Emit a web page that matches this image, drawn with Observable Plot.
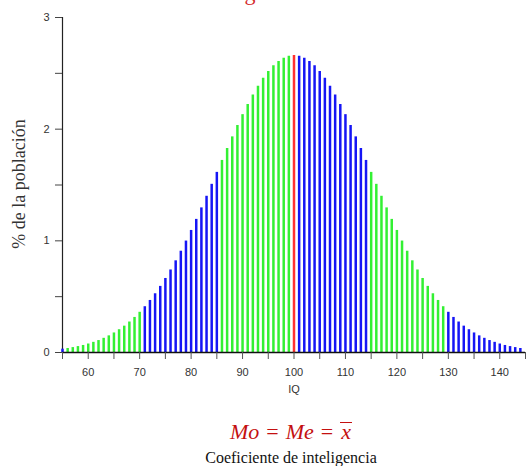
<!DOCTYPE html>
<html>
<head>
<meta charset="utf-8">
<script src="https://cdn.jsdelivr.net/npm/d3@7"></script>
<script src="https://cdn.jsdelivr.net/npm/@observablehq/plot@0.6"></script>
<style>
  html, body { margin: 0; padding: 0; background: #fff; }
  #wrap { position: relative; width: 526px; height: 466px; overflow: hidden; }
  #chart { position: absolute; left: 0; top: 0; }
  .title { position: absolute; top: -18px; left: 198px; font: 22px "Liberation Serif", serif; color: #d42a2a; line-height: 1; white-space: nowrap; }
  .formula { position: absolute; top: 421px; left: 0; width: 582px; text-align: center; font: italic 22px "Liberation Serif", serif; color: #c41010; line-height: 1; white-space: nowrap; }
  .formula .eq { font-style: normal; margin: 0 7px; }
  .formula .bar { display: inline-block; border-top: 1.5px solid #c41010; line-height: 0.85; padding: 0 1px; }
  .caption { position: absolute; top: 450px; left: 0; width: 582px; text-align: center; font: 16px "Liberation Serif", serif; color: #111; line-height: 1; white-space: nowrap; }
</style>
</head>
<body>
<div id="wrap">
  <div class="title">Inteligencia</div>
  <div id="chart"></div>
  <div class="formula">Mo<span class="eq">=</span>Me<span class="eq">=</span><span class="bar">x</span></div>
  <div class="caption">Coeficiente de inteligencia</div>
</div>
<script>
// IQ score of each bar
const iq = [
  55, 56, 57, 58, 59, 60, 61, 62, 63, 64, 65, 66, 67, 68, 69, 70,
  71, 72, 73, 74, 75, 76, 77, 78, 79, 80, 81, 82, 83, 84, 85,
  86, 87, 88, 89, 90, 91, 92, 93, 94, 95, 96, 97, 98, 99,
  100,
  101, 102, 103, 104, 105, 106, 107, 108, 109, 110, 111, 112, 113, 114,
  115, 116, 117, 118, 119, 120, 121, 122, 123, 124, 125, 126, 127, 128, 129,
  130, 131, 132, 133, 134, 135, 136, 137, 138, 139, 140, 141, 142, 143, 144
];

// share of the population (%) at each IQ score
const pct = [
  0.030, 0.036, 0.044, 0.053, 0.063, 0.076, 0.091, 0.107, 0.127, 0.149, 0.175, 0.204, 0.236, 0.273, 0.314, 0.360,
  0.410, 0.466, 0.526, 0.592, 0.663, 0.739, 0.821, 0.907, 0.998, 1.093, 1.192, 1.295, 1.399, 1.506, 1.613,
  1.720, 1.827, 1.931, 2.033, 2.130, 2.221, 2.307, 2.385, 2.455, 2.516, 2.567, 2.607, 2.636, 2.654,
  2.660,
  2.654, 2.636, 2.607, 2.567, 2.516, 2.455, 2.385, 2.307, 2.221, 2.130, 2.033, 1.931, 1.827, 1.720,
  1.613, 1.506, 1.399, 1.295, 1.192, 1.093, 0.998, 0.907, 0.821, 0.739, 0.663, 0.592, 0.526, 0.466, 0.410,
  0.360, 0.314, 0.273, 0.236, 0.204, 0.175, 0.149, 0.127, 0.107, 0.091, 0.076, 0.063, 0.053, 0.044, 0.036
];

// colour bands: each band starts at the given IQ score
const bandStart = [41, 56, 71, 86, 100, 101, 115, 130, 145];
const bandColor = ["#1515f5", "#33f033", "#1515f5", "#33f033", "#ff3030", "#1515f5", "#33f033", "#1515f5", "#33f033"];

// axis ticks
const xLabelTicks = [60, 70, 80, 90, 100, 110, 120, 130, 140];
const xMinorTicks = [55, 65, 75, 85, 95, 105, 115, 125, 135, 145];
const yLabelTicks = [0, 1, 2, 3];
const yMinorTicks = [0.5, 1.5, 2.5];

const bandOf = (v) => bandColor[d3.bisectRight(bandStart, v) - 1];
const rows = iq.map((v, i) => ({iq: v, pct: pct[i], color: bandOf(v)}));

const sans = "Liberation Sans, Arial, sans-serif";
const serif = "Liberation Serif, DejaVu Serif, serif";

const chart = Plot.plot({
  width: 526,
  height: 400,
  marginLeft: 62,
  marginRight: 1,
  marginTop: 17,
  marginBottom: 48,
  style: {fontFamily: sans, fontSize: "11px", color: "#333", background: "transparent"},
  x: {domain: [55, 145], label: null},
  y: {domain: [0, 3], label: null},
  color: {type: "identity"},
  marks: [
    Plot.ruleX([55], {y1: 0, y2: 3, stroke: "#222", strokeWidth: 1.2}),
    Plot.ruleX(rows, {x: "iq", y1: 0, y2: "pct", stroke: "color", strokeWidth: 2.5}),
    Plot.ruleY([0], {stroke: "#111", strokeWidth: 1.4}),
    Plot.axisX({ticks: xLabelTicks, tickSize: 7, tickPadding: 9, tickFormat: "d", stroke: "#555", fill: "#333", fontSize: 11, label: null}),
    Plot.axisX({ticks: xMinorTicks, tickSize: 7, tickFormat: () => "", stroke: "#555", label: null}),
    Plot.axisY({ticks: yLabelTicks, tickSize: 7, tickPadding: 6, tickFormat: "d", stroke: "#444", fill: "#333", fontSize: 11, label: null}),
    Plot.axisY({ticks: yMinorTicks, tickSize: 7, tickFormat: () => "", stroke: "#444", label: null}),
    Plot.text(["IQ"], {x: 100, frameAnchor: "bottom", lineAnchor: "middle", dy: 37, fontSize: 11, fill: "#333", fontFamily: sans}),
    Plot.text(["% de la población"], {frameAnchor: "left", textAnchor: "middle", dx: -43, dy: -1, rotate: -90, fontSize: 18, fill: "#333", fontFamily: serif})
  ]
});

document.getElementById("chart").append(chart);
</script>
</body>
</html>
